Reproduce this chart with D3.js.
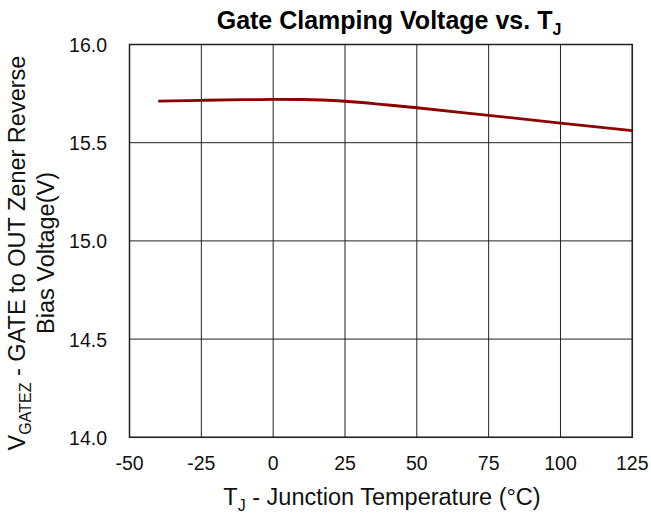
<!DOCTYPE html>
<html><head><meta charset="utf-8">
<script src="https://cdn.jsdelivr.net/npm/d3@7"></script>
<style>body{margin:0;background:#fff}svg{display:block}text{font-family:"Liberation Sans",Arial,sans-serif}</style>
</head><body>
<script>
const temps = [-40, -25, -10, 0, 10, 25, 40, 50, 75, 100, 125];
const volts = [15.712, 15.716, 15.719, 15.721, 15.72, 15.711, 15.692, 15.678, 15.639, 15.600, 15.561];
const xTicks = [-50, -25, 0, 25, 50, 75, 100, 125];
const yTicks = [14.0, 14.5, 15.0, 15.5, 16.0];

const W = 651, H = 519;
const m = {l: 129.5, r: 632.3, t: 44.5, b: 437.3};
const svg = d3.select("body").append("svg").attr("width", W).attr("height", H);
const x = d3.scaleLinear().domain([-50, 125]).range([m.l, m.r]);
const y = d3.scaleLinear().domain([14, 16]).range([m.b, m.t]);

// grid
svg.append("g").selectAll("line").data(xTicks).join("line")
  .attr("x1", d => x(d)).attr("x2", d => x(d)).attr("y1", m.t).attr("y2", m.b)
  .attr("stroke", "#222").attr("stroke-width", 1);
svg.append("g").selectAll("line").data(yTicks).join("line")
  .attr("y1", d => y(d)).attr("y2", d => y(d)).attr("x1", m.l).attr("x2", m.r)
  .attr("stroke", "#222").attr("stroke-width", 1);
svg.append("rect").attr("x", m.l).attr("y", m.t).attr("width", m.r - m.l).attr("height", m.b - m.t)
  .attr("fill", "none").attr("stroke", "#222").attr("stroke-width", 1.5);

// tick labels
svg.append("g").selectAll("text").data(xTicks).join("text")
  .attr("x", d => x(d)).attr("y", 470).attr("text-anchor", "middle")
  .attr("font-size", 19.5).attr("fill", "#111").text(d => d);
svg.append("g").selectAll("text").data(yTicks).join("text")
  .attr("x", 107).attr("y", d => y(d) + 7.5).attr("text-anchor", "end")
  .attr("font-size", 19.5).attr("fill", "#111").text(d => d.toFixed(1));

// line
const line = d3.line().x((d, i) => x(temps[i])).y(d => y(d)).curve(d3.curveMonotoneX);
svg.append("path").datum(volts).attr("d", line).attr("fill", "none")
  .attr("stroke", "#8B0000").attr("stroke-width", 2.8);

// title
const t = svg.append("text").attr("x", 389).attr("y", 29).attr("text-anchor", "middle")
  .attr("font-size", 25).attr("font-weight", "bold").attr("fill", "#000");
t.append("tspan").text("Gate Clamping Voltage vs. T");
t.append("tspan").attr("dy", 6).attr("font-size", 16).text("J");

// x axis title
const xt = svg.append("text").attr("x", 382).attr("y", 505).attr("text-anchor", "middle")
  .attr("font-size", 23.5).attr("fill", "#111");
xt.append("tspan").text("T");
xt.append("tspan").attr("dy", 6).attr("font-size", 16).text("J");
xt.append("tspan").attr("dy", -6).text(" - Junction Temperature (°C)");

// y axis title
const yg = svg.append("g").attr("transform", "translate(0,253) rotate(-90)");
const y1 = yg.append("text").attr("x", 0).attr("y", 25).attr("text-anchor", "middle")
  .attr("font-size", 23.5).attr("fill", "#111");
y1.append("tspan").text("V");
y1.append("tspan").attr("dy", 6).attr("font-size", 16).text("GATEZ");
y1.append("tspan").attr("dy", -6).text(" - GATE to OUT Zener Reverse");
yg.append("text").attr("x", 0).attr("y", 54).attr("text-anchor", "middle")
  .attr("font-size", 23.5).attr("fill", "#111").text("Bias Voltage(V)");
</script>
</body></html>
